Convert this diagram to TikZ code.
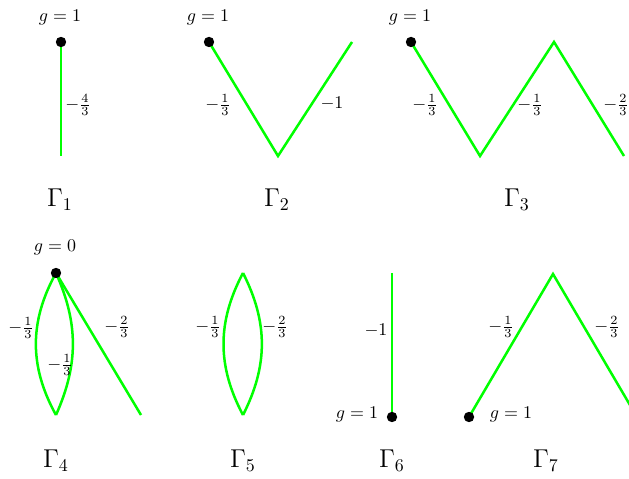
\documentclass[tikz,border=0pt]{standalone}
\usepackage{amsmath}
\usetikzlibrary{positioning}
\begin{document}
\begin{tikzpicture}[x=0.0196cm,y=-0.0196cm,
  branch/.style={draw=green,line width=1.4pt},
  vert/.style={circle,fill=black,inner sep=0pt,minimum size=5.8pt},
  wt/.style={inner sep=0pt},
  gname/.style={font=\Large,inner sep=0pt}]
\useasboundingbox (0,0) rectangle (629,479);
\clip (0,0) rectangle (629,479);
% Gamma_1
\coordinate (p1a) at (61,42);
\coordinate (p1b) at (61,156);
\draw[branch] (p1a) -- (p1b);
\node[vert] (v1) at (p1a) {};
\node[wt] (g1) at (60,17) {$g=1$};
\node[wt] (w1) at (78,105) {$-\frac{4}{3}$};
\node[gname] (G1) at (60,200) {$\Gamma_1$};
% Gamma_2
\coordinate (p2a) at (209,42);
\coordinate (p2b) at (278,156);
\coordinate (p2c) at (352,42);
\draw[branch] (p2a) -- (p2b) -- (p2c);
\node[vert] (v2) at (p2a) {};
\node[wt] (g2) at (208,17) {$g=1$};
\node[wt] (w2a) at (218,105) {$-\frac{1}{3}$};
\node[wt] (w2b) at (332,103) {$-1$};
\node[gname] (G2) at (277,200) {$\Gamma_2$};
% Gamma_3
\coordinate (p3a) at (411,42);
\coordinate (p3b) at (480,156);
\coordinate (p3c) at (554,42);
\coordinate (p3d) at (624,156);
\draw[branch] (p3a) -- (p3b) -- (p3c) -- (p3d);
\node[vert] (v3) at (p3a) {};
\node[wt] (g3) at (410,17) {$g=1$};
\node[wt] (w3a) at (425,105) {$-\frac{1}{3}$};
\node[wt] (w3b) at (530,105) {$-\frac{1}{3}$};
\node[wt] (w3c) at (616,105) {$-\frac{2}{3}$};
\node[gname] (G3) at (517,200) {$\Gamma_3$};
% Gamma_4
\coordinate (p4a) at (56,273);
\coordinate (p4b) at (56,415);
\coordinate (p4c) at (141,415);
\draw[branch] (p4a) to[bend right=29] (p4b);
\draw[branch] (p4a) to[bend left=24] (p4b);
\draw[branch] (p4a) -- (p4c);
\node[vert] (v4) at (p4a) {};
\node[wt] (g4) at (55,247) {$g=0$};
\node[wt] (w4a) at (21,328) {$-\frac{1}{3}$};
\node[wt] (w4b) at (60,365) {$-\frac{1}{3}$};
\node[wt] (w4c) at (117,327) {$-\frac{2}{3}$};
\node[gname] (G4) at (56,461) {$\Gamma_4$};
% Gamma_5
\coordinate (p5a) at (243,273);
\coordinate (p5b) at (243,415);
\draw[branch] (p5a) to[bend right=28] (p5b);
\draw[branch] (p5a) to[bend left=27] (p5b);
\node[wt] (w5a) at (208,327) {$-\frac{1}{3}$};
\node[wt] (w5b) at (275,327) {$-\frac{2}{3}$};
\node[gname] (G5) at (243,461) {$\Gamma_5$};
% Gamma_6
\coordinate (p6a) at (392,273);
\coordinate (p6b) at (392,417);
\draw[branch] (p6a) -- (p6b);
\node[vert] (v6) at (p6b) {};
\node[wt] (g6) at (357,414) {$g=1$};
\node[wt] (w6) at (376,330) {$-1$};
\node[gname] (G6) at (392,461) {$\Gamma_6$};
% Gamma_7
\coordinate (p7a) at (469,417);
\coordinate (p7b) at (553,274);
\coordinate (p7c) at (637,417);
\draw[branch] (p7a) -- (p7b) -- (p7c);
\node[vert] (v7) at (p7a) {};
\node[wt] (g7) at (511,414) {$g=1$};
\node[wt] (w7a) at (501,327) {$-\frac{1}{3}$};
\node[wt] (w7b) at (607,327) {$-\frac{2}{3}$};
\node[gname] (G7) at (546,461) {$\Gamma_7$};
\end{tikzpicture}
\end{document}
